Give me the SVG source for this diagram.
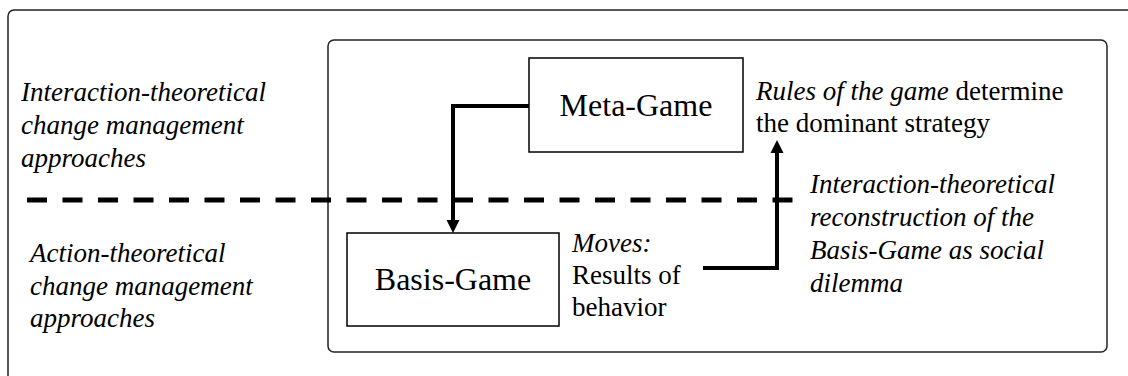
<svg xmlns="http://www.w3.org/2000/svg" width="1128" height="376" viewBox="0 0 1128 376">
<rect width="1128" height="376" fill="#fff"/>
<g id="outer-frame">
  <rect x="8" y="10" width="1140" height="390" rx="6" fill="none" stroke="#222" stroke-width="1.5"/>
</g>
<g id="inner-frame">
  <rect x="328" y="40" width="779" height="312" rx="6" fill="none" stroke="#222" stroke-width="1.5"/>
</g>
<g id="divider">
  <line x1="27" y1="200" x2="795" y2="200" stroke="#000" stroke-width="5" stroke-dasharray="20 15.5"/>
</g>
<g id="label-interaction">
  <text x="21" y="101" font-family="Liberation Serif" font-style="italic" font-size="27">Interaction-theoretical</text>
  <text x="21" y="134" font-family="Liberation Serif" font-style="italic" font-size="27">change management</text>
  <text x="21" y="167" font-family="Liberation Serif" font-style="italic" font-size="27">approaches</text>
</g>
<g id="label-action">
  <text x="30" y="262" font-family="Liberation Serif" font-style="italic" font-size="27">Action-theoretical</text>
  <text x="30" y="295" font-family="Liberation Serif" font-style="italic" font-size="27">change management</text>
  <text x="30" y="327" font-family="Liberation Serif" font-style="italic" font-size="27">approaches</text>
</g>
<g id="meta-game">
  <rect x="529" y="58" width="214" height="94" fill="#fff" stroke="#000" stroke-width="1.5"/>
  <text x="636" y="116" font-family="Liberation Serif" font-size="32" text-anchor="middle">Meta-Game</text>
</g>
<g id="basis-game">
  <rect x="347" y="233" width="212" height="93" fill="#fff" stroke="#000" stroke-width="1.5"/>
  <text x="453" y="290" font-family="Liberation Serif" font-size="32" text-anchor="middle">Basis-Game</text>
</g>
<g id="rules-label">
  <text x="756" y="100" font-family="Liberation Serif" font-size="27"><tspan font-style="italic">Rules of the game</tspan> determine</text>
  <text x="756" y="132" font-family="Liberation Serif" font-size="27">the dominant strategy</text>
</g>
<g id="moves-label">
  <text x="572" y="252" font-family="Liberation Serif" font-style="italic" font-size="27">Moves:</text>
  <text x="572" y="284" font-family="Liberation Serif" font-size="27">Results of</text>
  <text x="572" y="316" font-family="Liberation Serif" font-size="27">behavior</text>
</g>
<g id="reconstruction-label">
  <text x="810" y="193" font-family="Liberation Serif" font-style="italic" font-size="27">Interaction-theoretical</text>
  <text x="810" y="226" font-family="Liberation Serif" font-style="italic" font-size="27">reconstruction of the</text>
  <text x="810" y="259" font-family="Liberation Serif" font-style="italic" font-size="27">Basis-Game as social</text>
  <text x="810" y="292" font-family="Liberation Serif" font-style="italic" font-size="27">dilemma</text>
</g>
<g id="connectors">
  <path d="M529,106 H453 V221" fill="none" stroke="#000" stroke-width="4"/>
  <polygon points="446.5,220 459.5,220 453,233" fill="#000"/>
  <path d="M703,268 H777 V152" fill="none" stroke="#000" stroke-width="4"/>
  <polygon points="770.5,153 783.5,153 777,140" fill="#000"/>
</g>
</svg>
